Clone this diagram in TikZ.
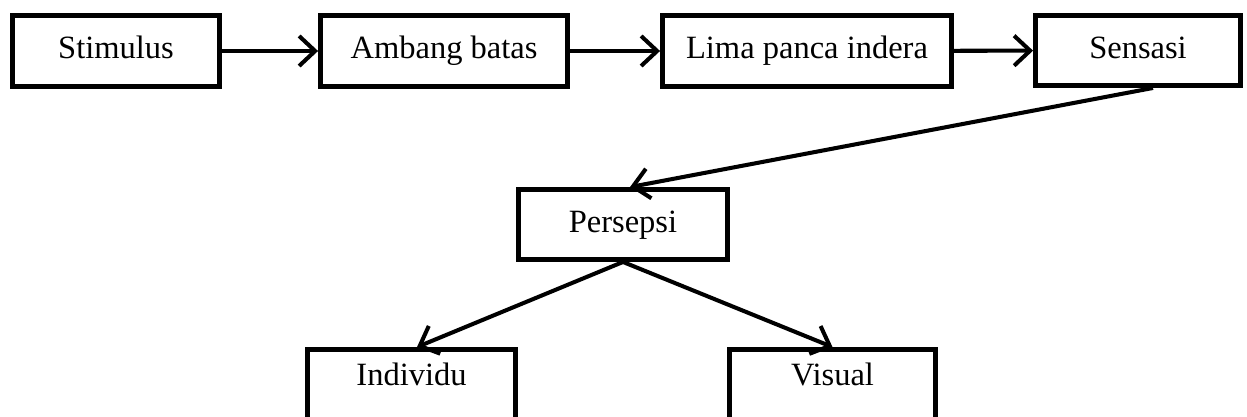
\documentclass[tikz,border=0pt]{standalone}
\usepackage{fontspec}
\setmainfont{Liberation Serif}
\usetikzlibrary{arrows.meta}

\tikzset{
  box/.style={draw, line width=2.8pt, rectangle, inner sep=1pt, minimum height=1.42cm,
    text height=13pt, text depth=4pt, font=\fontsize{18.5}{22}\selectfont},
  arr/.style={line width=2.3pt, -{Straight Barb[length=3.2mm,width=6mm]}}
}

\begin{document}
\begin{tikzpicture}[x=0.02cm, y=-0.02cm]

% Page frame (1247 x 416)
\useasboundingbox (0,0) rectangle (1247,416);
\clip (0,0) rectangle (1247,416);

% Top row
\node[box, minimum width=4.14cm] (stim) at (116,51) {Stimulus};       % Stimulus
\node[box, minimum width=4.94cm] (amb) at (444,51) {Ambang batas};    % Ambang batas
\node[box, minimum width=5.78cm] (lima) at (807,51) {Lima panca indera}; % Lima panca indera
\node[box, minimum width=4.10cm, minimum height=1.40cm] (sens) at (1138,50.5) {Sensasi}; % Sensasi

% Middle
\node[box, minimum width=4.18cm, minimum height=1.40cm] (pers) at (623,224.5) {Persepsi}; % Persepsi

% Bottom row (cut by the page edge), text sits high in the box
\node[box, minimum width=4.16cm, text depth=12pt] (indiv) at (411.5,385) {Individu}; % Individu
\node[box, minimum width=4.12cm, text depth=12pt] (vis) at (832.5,385) {Visual};     % Visual

% Arrows along the top row
\draw[arr] (stim) -- (amb);
\draw[arr] (amb) -- (lima);
\draw[arr] (lima) -- (sens);

% Sensasi down to Persepsi
\draw[arr] ([xshift=0.30cm]sens.south) -- ([xshift=0.14cm]pers.north);

% Persepsi splits in two
\draw[arr] (pers.south) -- ([xshift=0.11cm]indiv.north);
\draw[arr] (pers.south) -- (vis.north);

\end{tikzpicture}
\end{document}
